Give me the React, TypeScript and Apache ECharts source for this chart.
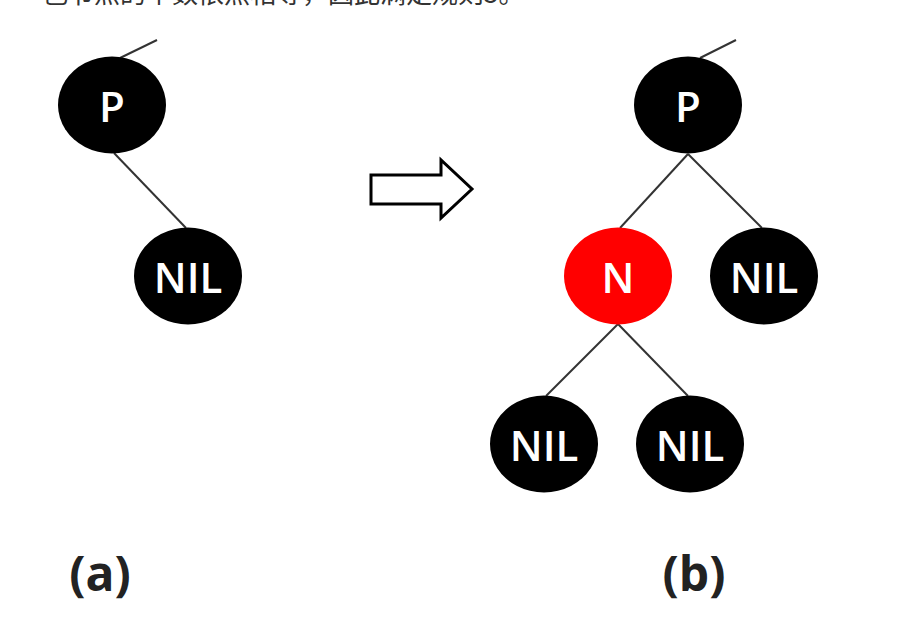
import * as echarts from "echarts";
import { useEffect, useRef } from "react";

const nodeNames = ["Pa", "NILa", "Pb", "N", "NILb1", "NILb2", "NILb3"];
const nodeLabels = ["P", "NIL", "P", "N", "NIL", "NIL", "NIL"];
const nodeX = [112, 188, 688, 618, 764, 544, 690];
const nodeY = [105, 276, 105, 276, 276, 444, 444];
const nodeColors = ["#000", "#000", "#000", "#f00", "#000", "#000", "#000"];
// edge endpoints: [x1, y1, x2, y2]
const edgeX1 = [120, 114, 736, 688, 688, 618, 618];
const edgeY1 = [58, 153, 40, 154, 154, 324, 324];
const edgeX2 = [157, 186, 700, 620, 762, 546, 688];
const edgeY2 = [40, 228, 58, 228, 228, 396, 396];
const captions = ["(a)", "(b)"];
const captionX = [100, 694];

const App = () => {
  const chartRef = useRef(null);

  useEffect(() => {
    const chart = echarts.init(chartRef.current, null, { renderer: "svg" });

    const data: any[] = nodeNames.map((name, i) => ({
      name,
      value: [nodeX[i], nodeY[i]],
      symbolSize: [108, 97],
      itemStyle: { color: nodeColors[i] },
      label: { show: true, formatter: nodeLabels[i] },
      z: 3,
    }));
    const links: any[] = [];
    edgeX1.forEach((_, i) => {
      data.push({ name: "s" + i, value: [edgeX1[i], edgeY1[i]], symbolSize: 0, label: { show: false } });
      data.push({ name: "t" + i, value: [edgeX2[i], edgeY2[i]], symbolSize: 0, label: { show: false } });
      links.push({ source: "s" + i, target: "t" + i });
    });

    chart.setOption({
      animation: false,
      grid: { left: 0, right: 0, top: 0, bottom: 0 },
      xAxis: { type: "value", min: 0, max: 920, show: false },
      yAxis: { type: "value", min: 0, max: 630, inverse: true, show: false },
      series: [
        {
          type: "graph",
          coordinateSystem: "cartesian2d",
          layout: "none",
          data,
          links,
          lineStyle: { color: "#333", width: 2, opacity: 1 },
          label: {
            color: "#fff",
            fontSize: 42,
            fontWeight: 600,
            fontFamily: "Open Sans",
            position: "inside",
          },
        },
      ],
      graphic: [
        {
          type: "text",
          left: 42,
          top: -22,
          style: {
            text: "色节点的个数依然相等，因此满足规则5。",
            font: "26px 'Noto Sans CJK SC'",
            fill: "#333",
          },
        },
        {
          type: "polygon",
          shape: {
            points: [
              [371, 175], [441, 175], [441, 160], [472, 189],
              [441, 218], [441, 204], [371, 204],
            ],
          },
          style: { fill: "#fff", stroke: "#000", lineWidth: 3 },
        },
        ...captions.map((c, i) => ({
          type: "text",
          x: captionX[i],
          y: 572,
          style: {
            text: c,
            font: "bold 48px 'Open Sans'",
            fill: "#222",
            align: "center",
            verticalAlign: "middle",
          },
        })),
      ],
    });

    return () => chart.dispose();
  }, []);

  return (
    <div
      ref={chartRef}
      style={{ position: "fixed", left: 0, top: 0, width: "920px", height: "630px", background: "#fff" }}
    />
  );
};

export default App;
